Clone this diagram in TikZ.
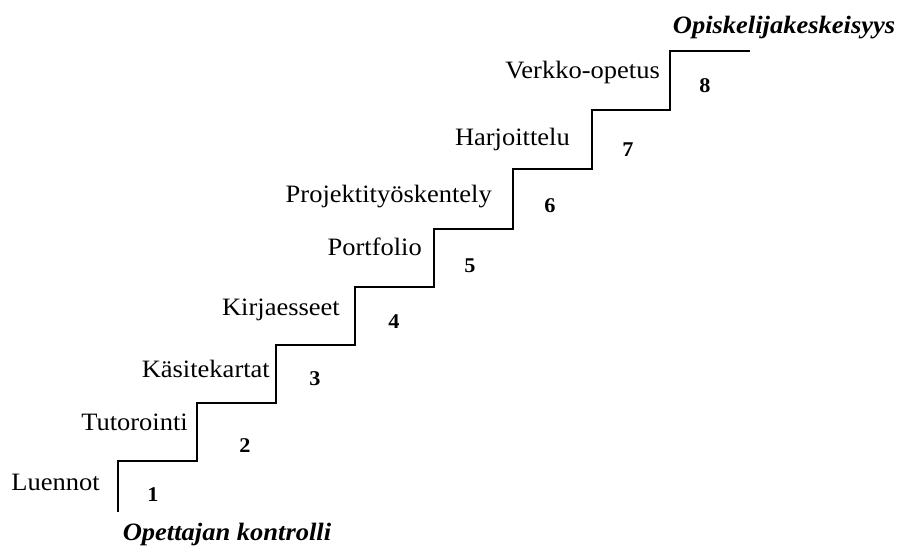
\documentclass[tikz,border=0pt]{standalone}
\usepackage{fontspec}
\setmainfont{Liberation Serif}[FakeStretch=1.06]
\usepackage{tikz}
\usetikzlibrary{positioning}
\tikzset{
    steplabel/.style={
        anchor=base east,
        inner sep=0pt,
        font=\fontsize{25}{29}\selectfont
    },
    stepnumber/.style={
        anchor=base,
        inner sep=0pt,
        font=\fontsize{21}{24}\selectfont\bfseries
    },
    endlabel/.style={
        anchor=base,
        inner sep=0pt,
        font=\fontsize{25}{29}\selectfont\bfseries\itshape
    },
    stairline/.style={
        line width=2.4pt,
        line join=miter
    }
}

\begin{document}
\begin{tikzpicture}[x=1pt, y=-1pt]
    \useasboundingbox (0,0) rectangle (899,552);

    % corners of the staircase
    \coordinate (foot) at (118,512);
    \coordinate (s1) at (197,461);
    \coordinate (s2) at (276,403);
    \coordinate (s3) at (355,345);
    \coordinate (s4) at (434,287);
    \coordinate (s5) at (513,229);
    \coordinate (s6) at (592,169);
    \coordinate (s7) at (670,110);
    \coordinate (s8) at (750,51);

    \draw[stairline] (foot) |- (s1) |- (s2) |- (s3) |- (s4)
        |- (s5) |- (s6) |- (s7) |- (s8);

    % labels left of each riser
    \node[steplabel] (luennot) at (100,490) {Luennot};
    \node[steplabel] (tutorointi) at (188,430) {Tutorointi};
    \node[steplabel] (kasitekartat) at (270,377) {Käsitekartat};
    \node[steplabel] (kirjaesseet) at (340,315) {Kirjaesseet};
    \node[steplabel] (portfolio) at (422,255) {Portfolio};
    \node[steplabel] (projekti) at (492,202) {Projektityöskentely};
    \node[steplabel] (harjoittelu) at (570,145) {Harjoittelu};
    \node[steplabel] (verkko) at (660,78) {Verkko-opetus};

    % step numbers
    \node[stepnumber] (n1) at (153,501) {1};
    \node[stepnumber] (n2) at (245,452) {2};
    \node[stepnumber] (n3) at (315,385) {3};
    \node[stepnumber] (n4) at (394,328) {4};
    \node[stepnumber] (n5) at (470,272) {5};
    \node[stepnumber] (n6) at (550,212) {6};
    \node[stepnumber] (n7) at (628,156) {7};
    \node[stepnumber] (n8) at (705,92) {8};

    % ends of the scale
    \node[endlabel] (teacher) at (227,540) {Opettajan kontrolli};
    \node[endlabel] (student) at (784,33) {Opiskelijakeskeisyys};
\end{tikzpicture}
\end{document}
